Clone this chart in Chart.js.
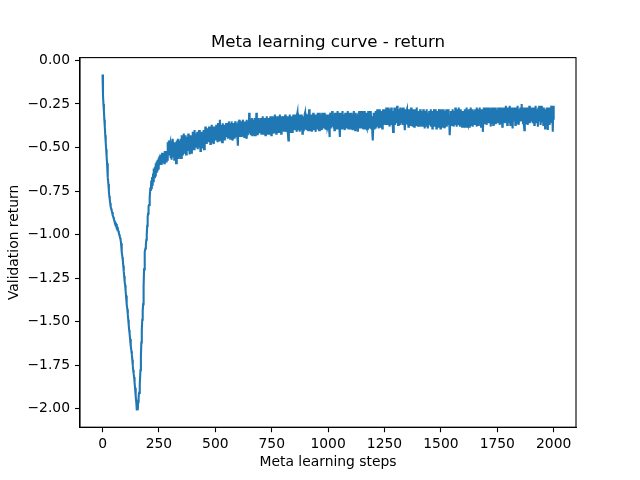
<!DOCTYPE html>
<html><head><meta charset="utf-8">
<script src="https://cdn.jsdelivr.net/npm/chart.js@4/dist/chart.umd.min.js"></script>
<style>html,body{margin:0;padding:0;background:#fff}canvas{display:block}</style>
</head><body>
<canvas id="c" width="640" height="480"></canvas>
<script>
const STEP_SIZE = 2;
const returns = [
-0.08,-0.20,-0.25,-0.29,-0.34,-0.38,-0.43,-0.47,-0.51,-0.55,-0.59,
-0.63,-0.67,-0.71,-0.75,-0.78,-0.80,-0.82,-0.84,-0.85,-0.86,
-0.87,-0.88,-0.89,-0.90,-0.91,-0.92,-0.92,-0.93,-0.94,-0.94,
-0.95,-0.95,-0.96,-0.97,-0.98,-0.99,-1.00,-1.01,-1.02,-1.03,
-1.05,-1.07,-1.10,-1.13,-1.15,-1.18,-1.21,-1.24,-1.27,-1.29,
-1.32,-1.35,-1.38,-1.40,-1.43,-1.46,-1.49,-1.52,-1.55,-1.57,
-1.60,-1.62,-1.64,-1.67,-1.69,-1.72,-1.75,-1.78,-1.80,-1.82,
-1.85,-1.88,-1.90,-1.93,-1.97,-2.01,-1.99,-2.01,-1.96,-1.93,
-1.91,-1.89,-1.86,-1.78,-1.70,-1.62,-1.55,-1.49,-1.44,-1.40,
-1.30,-1.20,-1.14,-1.10,-1.08,-1.06,-1.03,-1.00,-0.95,-0.90,
-0.88,-0.84,-0.83,-0.78,-0.79,-0.73,-0.75,-0.69,-0.74,-0.67,
-0.72,-0.65,-0.70,-0.62,-0.67,-0.61,-0.66,-0.59,-0.64,-0.58,
-0.63,-0.57,-0.62,-0.56,-0.61,-0.55,-0.60,-0.54,-0.59,-0.55,
-0.60,-0.53,-0.59,-0.54,-0.58,-0.53,-0.59,-0.52,-0.57,-0.53,
-0.58,-0.52,-0.57,-0.54,-0.47,-0.54,-0.46,-0.53,-0.48,
-0.47,-0.56,-0.48,-0.57,-0.46,-0.54,-0.45,-0.55,-0.49,-0.57,-0.47,-0.56,-0.48,-0.59,-0.55,-0.46,-0.54,-0.45,-0.56,-0.48,-0.55,-0.46,-0.53,-0.45,-0.56,
-0.51,-0.43,-0.54,-0.44,-0.50,-0.42,-0.53,-0.45,-0.52,-0.43,-0.54,-0.46,-0.53,-0.44,-0.51,-0.42,-0.52,-0.43,-0.54,-0.45,-0.50,-0.43,-0.53,-0.44,-0.51,
-0.41,-0.50,-0.43,-0.51,-0.40,-0.48,-0.42,-0.50,-0.44,-0.49,-0.41,-0.51,-0.43,-0.47,-0.40,-0.50,-0.42,-0.52,-0.44,-0.48,-0.41,-0.50,-0.43,-0.49,-0.40,
-0.51,-0.40,-0.47,-0.38,-0.46,-0.41,-0.48,-0.39,-0.45,-0.40,-0.47,-0.38,-0.46,-0.42,-0.48,-0.39,-0.45,-0.37,-0.47,-0.40,-0.46,-0.38,-0.48,-0.41,-0.45,
-0.38,-0.46,-0.37,-0.45,-0.39,-0.47,-0.36,-0.44,-0.38,-0.46,-0.34,-0.45,-0.37,-0.44,-0.39,-0.47,-0.36,-0.45,-0.38,-0.43,-0.37,-0.46,-0.39,-0.44,-0.36,
-0.44,-0.36,-0.45,-0.37,-0.43,-0.35,-0.44,-0.38,-0.45,-0.36,-0.42,-0.35,-0.44,-0.37,-0.46,-0.36,-0.43,-0.38,-0.45,-0.35,-0.44,-0.37,-0.42,-0.36,-0.45,
-0.49,-0.35,-0.43,-0.34,-0.44,-0.36,-0.42,-0.35,-0.44,-0.37,-0.43,-0.34,-0.42,-0.36,-0.44,-0.35,-0.43,-0.37,-0.42,-0.34,-0.45,-0.36,-0.43,-0.35,-0.42,
-0.30,-0.42,-0.34,-0.43,-0.35,-0.41,-0.33,-0.43,-0.36,-0.42,-0.34,-0.41,-0.33,-0.43,-0.35,-0.42,-0.30,-0.41,-0.34,-0.43,-0.33,-0.42,-0.35,-0.40,-0.34,
-0.41,-0.33,-0.42,-0.34,-0.40,-0.32,-0.42,-0.35,-0.41,-0.33,-0.40,-0.43,-0.34,-0.41,-0.32,-0.42,-0.35,-0.40,-0.33,-0.42,-0.34,-0.41,-0.32,-0.40,-0.43,
-0.33,-0.41,-0.32,-0.40,-0.34,-0.42,-0.33,-0.31,-0.41,-0.34,-0.42,-0.32,-0.40,-0.33,-0.41,-0.39,-0.32,-0.41,-0.31,-0.40,-0.34,-0.42,-0.32,-0.40,-0.33,
-0.40,-0.32,-0.41,-0.33,-0.39,-0.31,-0.41,-0.34,-0.40,-0.32,-0.39,-0.41,-0.46,-0.33,-0.40,-0.31,-0.41,-0.33,-0.39,-0.32,-0.41,-0.34,-0.40,-0.31,-0.39,
-0.32,-0.40,-0.31,-0.39,-0.33,-0.41,-0.32,-0.30,-0.40,-0.33,-0.39,-0.31,-0.41,-0.33,-0.40,-0.32,-0.39,-0.31,-0.42,-0.32,-0.40,-0.33,-0.39,-0.31,-0.30,
-0.39,-0.32,-0.40,-0.31,-0.38,-0.33,-0.40,-0.32,-0.28,-0.37,-0.40,-0.31,-0.39,-0.32,-0.41,-0.31,-0.38,-0.30,-0.40,-0.33,-0.39,-0.31,-0.41,-0.32,-0.38,
-0.31,-0.39,-0.30,-0.38,-0.32,-0.40,-0.30,-0.37,-0.31,-0.39,-0.33,-0.40,-0.30,-0.38,-0.31,-0.39,-0.32,-0.37,-0.30,-0.39,-0.33,-0.31,-0.40,-0.32,-0.38,
-0.37,-0.31,-0.39,-0.44,-0.33,-0.30,-0.39,-0.32,-0.38,-0.29,-0.38,-0.31,-0.39,-0.32,-0.40,-0.30,-0.37,-0.31,-0.39,-0.30,-0.38,-0.29,-0.39,-0.32,-0.30,
-0.38,-0.44,-0.33,-0.30,-0.38,-0.31,-0.39,-0.29,-0.37,-0.31,-0.39,-0.32,-0.40,-0.30,-0.38,-0.31,-0.39,-0.30,-0.37,-0.29,-0.39,-0.31,-0.38,-0.30,-0.39,
-0.31,-0.39,-0.30,-0.38,-0.31,-0.40,-0.32,-0.29,-0.39,-0.31,-0.40,-0.30,-0.37,-0.31,-0.39,-0.32,-0.41,-0.30,-0.38,-0.29,-0.39,-0.31,-0.37,-0.29,-0.39,
-0.31,-0.38,-0.29,-0.39,-0.31,-0.37,-0.29,-0.39,-0.32,-0.38,-0.30,-0.39,-0.31,-0.40,-0.29,-0.38,-0.31,-0.39,-0.30,-0.37,-0.29,-0.39,-0.32,-0.41,-0.46,
-0.38,-0.30,-0.39,-0.31,-0.37,-0.29,-0.39,-0.32,-0.38,-0.28,-0.37,-0.31,-0.39,-0.30,-0.37,-0.28,-0.38,-0.31,-0.37,-0.29,-0.39,-0.32,-0.28,-0.37,-0.31,
-0.28,-0.36,-0.29,-0.37,-0.27,-0.35,-0.28,-0.37,-0.30,-0.27,-0.36,-0.29,-0.38,-0.28,-0.35,-0.27,-0.37,-0.30,-0.36,-0.41,-0.29,-0.36,-0.27,-0.37,-0.29,
-0.36,-0.28,-0.35,-0.26,-0.34,-0.37,-0.28,-0.35,-0.29,-0.37,-0.27,-0.35,-0.28,-0.36,-0.29,-0.37,-0.27,-0.35,-0.30,-0.36,-0.40,-0.34,-0.28,-0.36,-0.29,
-0.28,-0.37,-0.29,-0.38,-0.28,-0.35,-0.29,-0.37,-0.31,-0.27,-0.36,-0.29,-0.38,-0.28,-0.35,-0.30,-0.38,-0.28,-0.36,-0.29,-0.37,-0.27,-0.35,-0.30,-0.38,
-0.29,-0.38,-0.30,-0.37,-0.28,-0.38,-0.31,-0.29,-0.37,-0.30,-0.38,-0.28,-0.36,-0.30,-0.39,-0.29,-0.37,-0.31,-0.28,-0.38,-0.30,-0.39,-0.31,-0.37,-0.29,
-0.37,-0.30,-0.38,-0.28,-0.36,-0.30,-0.39,-0.29,-0.37,-0.31,-0.28,-0.38,-0.30,-0.36,-0.28,-0.39,-0.30,-0.37,-0.29,-0.38,-0.31,-0.28,-0.37,-0.30,-0.39,
-0.30,-0.37,-0.28,-0.38,-0.30,-0.36,-0.28,-0.37,-0.31,-0.39,-0.29,-0.36,-0.28,-0.38,-0.30,-0.35,-0.28,-0.37,-0.31,-0.38,-0.43,-0.35,-0.29,-0.37,-0.30,
-0.37,-0.28,-0.36,-0.30,-0.38,-0.29,-0.37,-0.27,-0.35,-0.30,-0.38,-0.28,-0.36,-0.31,-0.27,-0.37,-0.29,-0.38,-0.31,-0.28,-0.36,-0.30,-0.38,-0.29,-0.35,
-0.36,-0.29,-0.38,-0.28,-0.35,-0.30,-0.38,-0.27,-0.36,-0.29,-0.37,-0.31,-0.28,-0.38,-0.30,-0.36,-0.27,-0.37,-0.29,-0.35,-0.28,-0.38,-0.31,-0.36,-0.29,
-0.37,-0.28,-0.35,-0.29,-0.38,-0.27,-0.36,-0.30,-0.37,-0.28,-0.34,-0.27,-0.36,-0.29,-0.38,-0.28,-0.35,-0.30,-0.41,-0.34,-0.27,-0.36,-0.29,-0.35,-0.27,
-0.35,-0.28,-0.37,-0.27,-0.34,-0.29,-0.36,-0.27,-0.35,-0.28,-0.38,-0.29,-0.34,-0.27,-0.36,-0.29,-0.37,-0.27,-0.34,-0.28,-0.36,-0.30,-0.27,-0.35,-0.29,
-0.29,-0.36,-0.27,-0.35,-0.28,-0.37,-0.27,-0.34,-0.29,-0.36,-0.27,-0.38,-0.30,-0.28,-0.35,-0.27,-0.36,-0.29,-0.34,-0.26,-0.35,-0.28,-0.37,-0.27,-0.34,
-0.36,-0.28,-0.35,-0.26,-0.37,-0.29,-0.34,-0.27,-0.36,-0.39,-0.28,-0.35,-0.27,-0.34,-0.29,-0.37,-0.27,-0.35,-0.28,-0.36,-0.26,-0.34,-0.29,-0.37,-0.28,
-0.33,-0.27,-0.35,-0.28,-0.25,-0.34,-0.28,-0.36,-0.27,-0.35,-0.40,-0.29,-0.34,-0.27,-0.36,-0.28,-0.35,-0.27,-0.37,-0.29,-0.34,-0.26,-0.36,-0.28,-0.34,
-0.27,-0.35,-0.28,-0.36,-0.27,-0.34,-0.29,-0.37,-0.27,-0.35,-0.26,-0.34,-0.28,-0.36,-0.29,-0.38,-0.27,-0.34,-0.26,-0.35,-0.28,-0.37,-0.29,-0.35,-0.26,
-0.35,-0.28,-0.37,-0.27,-0.34,-0.29,-0.39,-0.28,-0.35,-0.27,-0.36,-0.29,-0.40,-0.27,-0.34,-0.28,-0.37,-0.27,-0.35,-0.29,-0.26,-0.36,-0.28,-0.41,-0.26,
-0.34
];
const steps = returns.map((_, i) => i * STEP_SIZE);
const xTicks = [0, 250, 500, 750, 1000, 1250, 1500, 1750, 2000];
const yTicks = [0, -0.25, -0.5, -0.75, -1, -1.25, -1.5, -1.75, -2];

const FONT = "'DejaVu Sans', sans-serif";
Chart.defaults.color = '#000';
Chart.defaults.font.family = FONT;

const frame = {
  id: 'frame',
  afterDatasetsDraw(chart) {
    const a = chart.chartArea, ctx = chart.ctx;
    ctx.save();
    ctx.strokeStyle = '#000';
    ctx.lineWidth = 1.1;
    ctx.strokeRect(a.left, a.top, a.right - a.left, a.bottom - a.top);
    ctx.restore();
  }
};

const fmtY = v => (Math.abs(v) < 1e-9 ? '0.00' : v.toFixed(2).replace('-', '\u2212'));

new Chart(document.getElementById('c'), {
  type: 'line',
  data: {
    datasets: [{
      data: steps.map((s, i) => ({x: s, y: returns[i]})),
      borderColor: '#1f77b4',
      borderWidth: 2.1,
      pointRadius: 0,
      tension: 0,
      fill: false
    }]
  },
  options: {
    responsive: false,
    devicePixelRatio: 1,
    animation: false,
    layout: {padding: {left: 0, right: 64, top: 0, bottom: 0}},
    plugins: {
      legend: {display: false},
      tooltip: {enabled: false},
      title: {
        display: true,
        fullSize: false,
        text: 'Meta learning curve - return',
        color: '#000',
        font: {family: FONT, size: 16.67, weight: 'normal'},
        padding: {top: 33, bottom: 4.6}
      }
    },
    scales: {
      x: {
        type: 'linear',
        min: -99.95,
        max: 2098.95,
        afterFit: s => { s.height = 52.8; },
        afterBuildTicks: s => { s.ticks = xTicks.map(v => ({value: v})); },
        ticks: {font: {family: FONT, size: 13.89}, color: '#000', padding: 4, maxRotation: 0,
                callback: v => String(v)},
        grid: {display: true, drawOnChartArea: false, drawTicks: true, tickLength: 5, tickColor: '#000', tickWidth: 1.1},
        border: {display: true, color: '#000', width: 1.1},
        title: {display: true, text: 'Meta learning steps', color: '#000',
                font: {family: FONT, size: 13.89}, padding: {top: 0, bottom: 9}}
      },
      y: {
        type: 'linear',
        min: -2.107,
        max: 0.0165,
        afterFit: s => { s.width = 80; },
        afterBuildTicks: s => { s.ticks = yTicks.map(v => ({value: v})); },
        ticks: {font: {family: FONT, size: 13.89}, color: '#000', padding: 5, callback: v => fmtY(v)},
        grid: {display: true, drawOnChartArea: false, drawTicks: true, tickLength: 5, tickColor: '#000', tickWidth: 1.1},
        border: {display: true, color: '#000', width: 1.1},
        title: {display: true, text: 'Validation return', color: '#000',
                font: {family: FONT, size: 13.89}, padding: {top: 6, bottom: 0}}
      }
    }
  },
  plugins: [frame]
});
</script>
</body></html>
